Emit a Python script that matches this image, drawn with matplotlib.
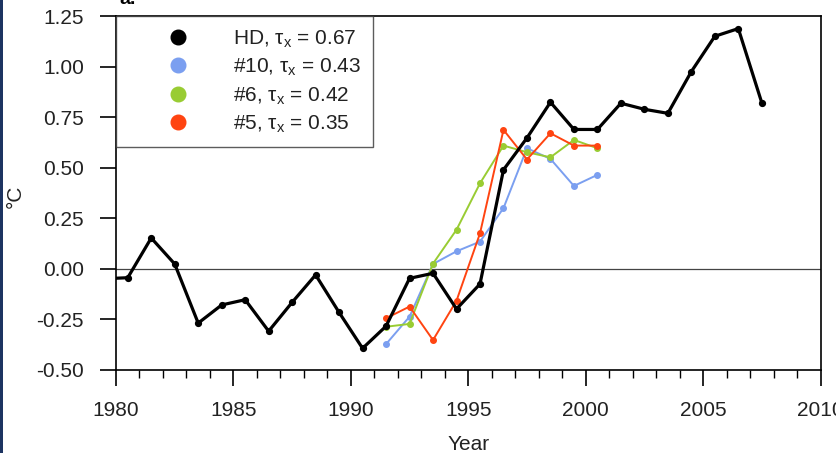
import matplotlib
matplotlib.use("Agg")
import matplotlib.pyplot as plt
from matplotlib.ticker import MultipleLocator, FixedLocator
from matplotlib.lines import Line2D
from matplotlib.patches import Rectangle

plt.rcParams['font.family'] = ['Liberation Sans', 'DejaVu Sans']
plt.rcParams['axes.unicode_minus'] = False
plt.rcParams['mathtext.fontset'] = 'custom'
plt.rcParams['mathtext.rm'] = 'Liberation Sans'

# ---- data ----
hd_years = [1979.5, 1980.5, 1981.5, 1982.5, 1983.5, 1984.5, 1985.5, 1986.5, 1987.5,
            1988.5, 1989.5, 1990.5, 1991.5, 1992.5, 1993.5, 1994.5, 1995.5, 1996.5,
            1997.5, 1998.5, 1999.5, 2000.5, 2001.5, 2002.5, 2003.5, 2004.5, 2005.5,
            2006.5, 2007.5]
hd_vals = [-0.05, -0.045, 0.152, 0.023, -0.27, -0.18, -0.154, -0.31, -0.167,
           -0.031, -0.217, -0.395, -0.285, -0.048, -0.023, -0.20, -0.076, 0.49,
           0.648, 0.825, 0.69, 0.69, 0.82, 0.79, 0.77, 0.977, 1.152, 1.19, 0.822]

run_years = [1991.5, 1992.5, 1993.5, 1994.5, 1995.5, 1996.5, 1997.5, 1998.5, 1999.5, 2000.5]
run10_vals = [-0.374, -0.238, 0.023, 0.086, 0.134, 0.30, 0.597, 0.544, 0.41, 0.465]
run6_vals = [-0.288, -0.274, 0.025, 0.193, 0.423, 0.61, 0.577, 0.552, 0.638, 0.597]
run5_vals = [-0.246, -0.188, -0.354, -0.159, 0.175, 0.688, 0.541, 0.671, 0.61, 0.61]

labels = ['HD, τ$_\\mathregular{x}$ = 0.67', '#10, τ$_\\mathregular{x}$ = 0.43',
          '#6, τ$_\\mathregular{x}$ = 0.42', '#5, τ$_\\mathregular{x}$ = 0.35']
colors = ['#000000', '#7b9ff0', '#99cc33', '#ff4411']

yticks = [-0.50, -0.25, 0.00, 0.25, 0.50, 0.75, 1.00, 1.25]
xticks = [1980, 1985, 1990, 1995, 2000, 2005, 2010]

# ---- figure ----
FS = 15
fig = plt.figure(figsize=(8.37, 4.53), dpi=100)
ax = fig.add_axes([0.1386, 0.1843, 0.8417, 0.7793])

ax.axhline(0, color='#444444', lw=0.9, zorder=1)

ax.plot(hd_years, hd_vals, color=colors[0], lw=2.3, marker='o', ms=4.2, zorder=5)
ax.plot(run_years, run10_vals, color=colors[1], lw=1.4, marker='o', ms=4, zorder=3)
ax.plot(run_years, run6_vals, color=colors[2], lw=1.4, marker='o', ms=4, zorder=3)
ax.plot(run_years, run5_vals, color=colors[3], lw=1.4, marker='o', ms=4, zorder=4)

ax.set_xlim(1980, 2010)
ax.set_ylim(-0.5, 1.25)
ax.xaxis.set_major_locator(FixedLocator(xticks))
ax.xaxis.set_minor_locator(MultipleLocator(1))
ax.yaxis.set_major_locator(FixedLocator(yticks))
ax.set_yticklabels([f'{v:.2f}' for v in yticks])
ax.tick_params(axis='both', which='major', direction='out', length=11.5, width=1.2,
               labelsize=FS, colors='black', labelcolor='#222222')
ax.tick_params(axis='y', which='major', pad=11.5)
ax.tick_params(axis='x', which='major', pad=11)
ax.tick_params(axis='x', which='minor', direction='out', length=5.5, width=1.0)
for s in ax.spines.values():
    s.set_linewidth(1.2)

ax.set_xlabel('Year', fontsize=FS, color='#222222')
ax.set_ylabel('°C', fontsize=FS, color='#222222')
ax.xaxis.set_label_coords(0.5, -0.185)
ax.yaxis.set_label_coords(-0.13, 0.49)

handles = [Line2D([], [], ls='none', marker='o', ms=10.5, color=c) for c in colors]
leg = ax.legend(handles, labels, loc='upper left', bbox_to_anchor=(0, 1),
                fontsize=FS, frameon=True, fancybox=False, borderaxespad=0,
                handlelength=4.83, handletextpad=0.23, labelspacing=0.33,
                borderpad=0.56)
leg.get_frame().set_edgecolor('#333333')
leg.get_frame().set_linewidth(1.0)
leg.set_zorder(10)
for t in leg.get_texts():
    t.set_color('#222222')

fig.text(0.143, 1.0, 'a.', fontsize=14, fontweight='bold', va='center', ha='left')
fig.patches.append(Rectangle((0, 0), 3 / 837, 1, transform=fig.transFigure,
                             facecolor='#1d3461', edgecolor='none', figure=fig))

fig.savefig('out.png', dpi=100)
